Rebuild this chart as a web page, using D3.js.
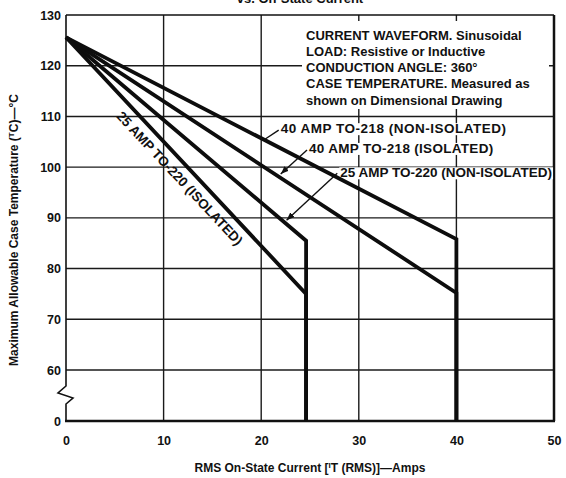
<!DOCTYPE html>
<html>
<head>
<meta charset="utf-8">
<script src="https://cdn.jsdelivr.net/npm/d3@7"></script>
<style>
  body { margin: 0; background: #fff; }
  svg { display: block; }
  text { font-family: "Liberation Sans", Arial, Helvetica, sans-serif; fill: #111; }
</style>
</head>
<body>
<div id="chart"></div>
<script>
// values (current in A, case temperature in °C)
const xTicks = [0, 10, 20, 30, 40, 50];
const yTicks = [0, 60, 70, 80, 90, 100, 110, 120, 130];
const xGrid = [10, 20, 30, 40];
const yGrid = [60, 70, 80, 90, 100, 110, 120];

const amps40NonIso = [0, 40, 40];
const temps40NonIso = [125.6, 85.8, 0];
const amps40Iso = [0, 40, 40];
const temps40Iso = [125.6, 75.2, 0];
const amps25NonIso = [0, 24.6, 24.6];
const temps25NonIso = [125.6, 85.5, 0];
const amps25Iso = [0, 24.6, 24.6];
const temps25Iso = [125.6, 75, 0];

const notes = [
  "CURRENT WAVEFORM. Sinusoidal",
  "LOAD: Resistive or Inductive",
  "CONDUCTION ANGLE: 360°",
  "CASE TEMPERATURE. Measured as",
  "shown on Dimensional Drawing"
];

const width = 566, height = 478;

const svg = d3.select("#chart").append("svg")
    .attr("width", width)
    .attr("height", height)
    .attr("viewBox", `0 0 ${width} ${height}`);

const x = d3.scaleLinear().domain([0, 50]).range([66, 554]);
// broken axis: 0 sits one grid step below 60
const y = d3.scaleLinear().domain([0, 60, 130]).range([421, 370, 15]);

const zip = (a, b) => a.map((v, i) => [v, b[i]]);
const line = d3.line().x(d => x(d[0])).y(d => y(d[1]));

// cut-off figure title at the very top (the scan crops it)
svg.append("text")
    .attr("x", 300).attr("y", 3)
    .attr("text-anchor", "middle")
    .style("font-size", "13px").style("font-weight", "bold")
    .text("vs. On-State Current");

// grid
svg.append("g").selectAll("line")
  .data(xGrid)
  .join("line")
    .attr("x1", d => x(d)).attr("x2", d => x(d))
    .attr("y1", y(0)).attr("y2", y(130))
    .attr("stroke", "#1a1a1a").attr("stroke-width", 1.4);

svg.append("g").selectAll("line")
  .data(yGrid)
  .join("line")
    .attr("x1", x(0)).attr("x2", x(50))
    .attr("y1", d => y(d)).attr("y2", d => y(d))
    .attr("stroke", "#1a1a1a").attr("stroke-width", 1.4);

// frame
svg.append("line").attr("x1", x(0)).attr("x2", x(50)).attr("y1", y(130)).attr("y2", y(130))
    .attr("stroke", "#111").attr("stroke-width", 1.5);
svg.append("line").attr("x1", x(50)).attr("x2", x(50)).attr("y1", y(130)).attr("y2", y(0))
    .attr("stroke", "#111").attr("stroke-width", 2.5);
svg.append("line").attr("x1", x(0) - 1).attr("x2", x(50) + 1).attr("y1", y(0)).attr("y2", y(0))
    .attr("stroke", "#111").attr("stroke-width", 2.5);

const x0 = x(0);
svg.append("path")
    .attr("d", d3.line()([
      [x0, y(130)], [x0, 386], [x0 - 8, 393], [x0 + 7, 398], [x0, 404], [x0, y(0)]
    ]))
    .attr("fill", "none").attr("stroke", "#111").attr("stroke-width", 1.6)
    .attr("stroke-linejoin", "miter");

// note block with white knockout
const noteG = svg.append("g");
const noteText = noteG.append("text")
    .attr("x", 306).attr("y", 39.5)
    .style("font-size", "13px").style("font-weight", "bold");
noteText.selectAll("tspan")
  .data(notes)
  .join("tspan")
    .attr("x", 306)
    .attr("dy", (d, i) => i === 0 ? 0 : 16.3)
    .text(d => d);
noteG.insert("rect", "text")
    .attr("x", 302).attr("y", 21).attr("width", 247).attr("height", 88)
    .attr("fill", "#fff");

// curve labels (knockout behind)
const labels = [
  { text: "40 AMP TO-218 (NON-ISOLATED)", a: 22.0, t: 106.7, ls: 0.5 },
  { text: "40 AMP TO-218 (ISOLATED)", a: 24.9, t: 102.8, ls: 0.3 },
  { text: "25 AMP TO-220 (NON-ISOLATED)", a: 28.1, t: 98.0, ls: 0 }
];
const labelG = svg.append("g");
labels.forEach(l => {
  const t = labelG.append("text")
      .attr("x", x(l.a)).attr("y", y(l.t))
      .style("font-size", "13.5px").style("font-weight", "bold")
      .style("letter-spacing", `${l.ls}px`)
      .text(l.text);
  const b = t.node().getBBox();
  labelG.insert("rect", "text")
      .attr("x", b.x - 1).attr("y", b.y + 2)
      .attr("width", b.width + 2).attr("height", b.height - 3)
      .attr("fill", "#fff");
});

// curves
const series = [
  zip(amps40NonIso, temps40NonIso),
  zip(amps40Iso, temps40Iso),
  zip(amps25NonIso, temps25NonIso),
  zip(amps25Iso, temps25Iso)
];
svg.append("g").selectAll("path")
  .data(series)
  .join("path")
    .attr("d", line)
    .attr("fill", "none")
    .attr("stroke", "#0d0d0d")
    .attr("stroke-width", 3.8)
    .attr("stroke-linejoin", "miter");

// leaders
svg.append("defs").append("marker")
    .attr("id", "arr")
    .attr("viewBox", "0 -4 10 8")
    .attr("refX", 10).attr("refY", 0)
    .attr("markerWidth", 8).attr("markerHeight", 7)
    .attr("markerUnits", "userSpaceOnUse")
    .attr("orient", "auto")
  .append("path").attr("d", "M0,-4L10,0L0,4Z").attr("fill", "#111");

const onCurve = (s, a) => s[0][1] + (s[1][1] - s[0][1]) * (a - s[0][0]) / (s[1][0] - s[0][0]);

const leaders = [
  { from: [x(22.0) - 2, y(106.7) - 3], s: series[0], a: 20.3, arrow: false },
  { from: [x(24.9) - 2, y(102.8) - 3], s: series[1], a: 22.0, arrow: true },
  { from: [x(28.1) - 3, y(98.0) - 4], s: series[2], a: 22.6, arrow: true }
];
leaders.forEach(l => {
  svg.append("line")
      .attr("x1", l.from[0]).attr("y1", l.from[1])
      .attr("x2", x(l.a)).attr("y2", y(onCurve(l.s, l.a)) - (l.arrow ? 4 : 0))
      .attr("stroke", "#111").attr("stroke-width", 1.4)
      .attr("marker-end", l.arrow ? "url(#arr)" : null);
});

// rotated label along the 25 A isolated curve
const p0 = [x(0), y(temps25Iso[0])];
const p1 = [x(amps25Iso[1]), y(temps25Iso[1])];
const ang = Math.atan2(p1[1] - p0[1], p1[0] - p0[0]);
const along = 92, off = 18;
const lx = p0[0] + along * Math.cos(ang) - off * Math.sin(ang);
const ly = p0[1] + along * Math.sin(ang) + off * Math.cos(ang);
svg.append("text")
    .attr("transform", `translate(${lx},${ly}) rotate(${ang * 180 / Math.PI})`)
    .style("font-size", "13.5px").style("font-weight", "bold")
    .text("25 AMP TO-220 (ISOLATED)");

// axes (labels only)
const xAxis = svg.append("g")
    .attr("transform", `translate(0,${y(0)})`)
    .call(d3.axisBottom(x).tickValues(xTicks).tickSize(0).tickPadding(15));
const yAxis = svg.append("g")
    .attr("transform", `translate(${x(0)},0)`)
    .call(d3.axisLeft(y).tickValues(yTicks).tickSize(0).tickPadding(5));
[xAxis, yAxis].forEach(g => {
  g.select(".domain").remove();
  g.attr("font-family", null).attr("font-size", null);
  g.selectAll("text").style("font-size", "12.5px").style("font-weight", "bold").attr("fill", "#111");
});

// axis titles
const yt = svg.append("text")
    .attr("transform", "translate(18,230) rotate(-90)")
    .attr("text-anchor", "middle")
    .style("font-size", "12px").style("font-weight", "bold");
yt.append("tspan").text("Maximum Allowable Case Temperature (");
yt.append("tspan").attr("dy", -4).style("font-size", "8px").text("T");
yt.append("tspan").attr("dy", 4).text("C)—°C");

const xt = svg.append("text")
    .attr("x", 310).attr("y", 472)
    .attr("text-anchor", "middle")
    .style("font-size", "12px").style("font-weight", "bold");
xt.append("tspan").text("RMS On-State Current [");
xt.append("tspan").attr("dy", -4).style("font-size", "8px").text("I");
xt.append("tspan").attr("dy", 4).text("T (RMS)]—Amps");
</script>
</body>
</html>
